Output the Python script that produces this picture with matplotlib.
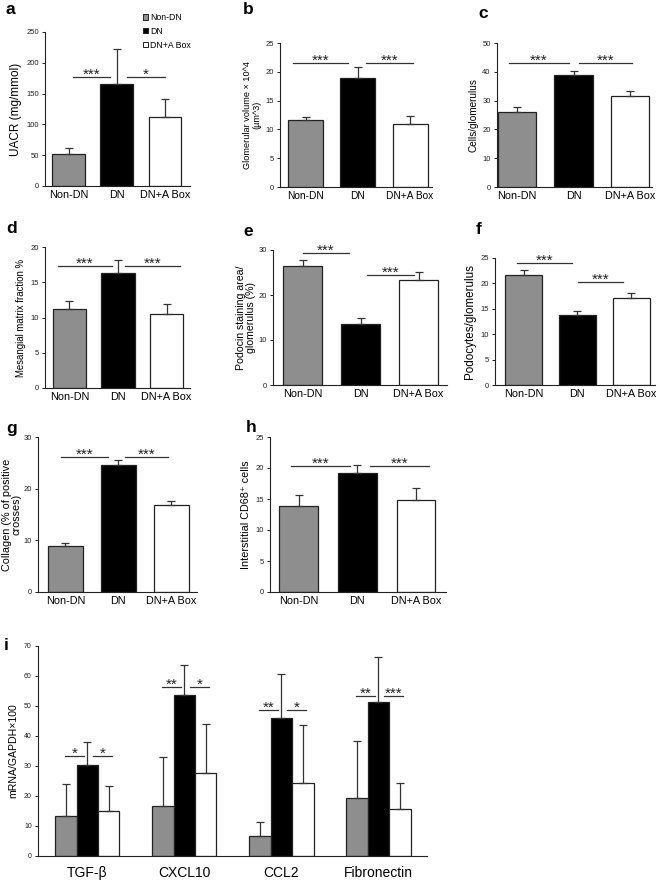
import matplotlib
matplotlib.use("Agg")
import matplotlib.pyplot as plt
from matplotlib.patches import Patch

plt.rcParams['font.family'] = ['Liberation Sans', 'DejaVu Sans']

# ---------------- data ----------------
groups = ['Non-DN', 'DN', 'DN+A Box']
uacr_mean = [51.5, 166, 111.5]
uacr_err = [10, 57, 30]
glom_vol_mean = [11.7, 19.0, 10.9]
glom_vol_err = [0.4, 1.85, 1.4]
cells_mean = [26.0, 39.0, 31.5]
cells_err = [1.7, 1.2, 1.7]
mesangial_mean = [11.2, 16.3, 10.5]
mesangial_err = [1.2, 1.8, 1.4]
podocin_mean = [26.5, 13.6, 23.3]
podocin_err = [1.3, 1.4, 1.9]
podocytes_mean = [21.6, 13.7, 17.1]
podocytes_err = [1.0, 0.8, 1.0]
collagen_mean = [8.9, 24.5, 16.9]
collagen_err = [0.6, 1.1, 0.8]
cd68_mean = [13.8, 19.2, 14.9]
cd68_err = [1.9, 1.3, 1.9]

genes = ['TGF-β', 'CXCL10', 'CCL2', 'Fibronectin']
mrna_nondn = [13.4, 16.6, 6.8, 19.5]
mrna_nondn_err = [10.6, 16.3, 4.4, 18.9]
mrna_dn = [30.3, 53.6, 46.1, 51.3]
mrna_dn_err = [7.7, 10.2, 14.7, 15.1]
mrna_abox = [14.9, 27.8, 24.4, 15.7]
mrna_abox_err = [8.4, 16.1, 19.3, 8.7]
mrna_sig = [('*', '*'), ('**', '*'), ('**', '*'), ('**', '***')]
mrna_sig_height = [33.3, 56.3, 48.7, 53.3]

colors = ['#8e8e8e', '#000000', '#ffffff']
EDGE = '#222222'
ECOL = '#333333'

W, H = 660, 882
fig = plt.figure(figsize=(W / 100, H / 100), dpi=100)


def px_axes(left, top, right, bottom):
    return fig.add_axes([left / W, 1 - bottom / H, (right - left) / W, (bottom - top) / H])


def style(ax, ytick_fs=5.5):
    for s in ['top', 'right']:
        ax.spines[s].set_visible(False)
    for s in ['left', 'bottom']:
        ax.spines[s].set_linewidth(0.8)
        ax.spines[s].set_color('#222222')
    ax.tick_params(axis='y', length=2.5, width=0.7, labelsize=ytick_fs, pad=2, colors='#222222')
    ax.tick_params(axis='x', length=0, pad=3)


def sig(ax, x0, x1, y, stars, fs=11):
    ax.plot([x0, x1], [y, y], color='#333333', lw=0.9, zorder=4)
    ax.annotate(stars, xy=((x0 + x1) / 2, y), xytext=(0, -1.4), textcoords='offset points',
                ha='center', va='baseline', fontsize=fs, color='#222222')


def panel(rect, xlim, width, means, errs, ylim, yticks, ylabel, ylabel_fs,
          xlabel_fs, sigs, letter, letter_xy, labelpad=3):
    ax = px_axes(*rect)
    x = list(range(len(groups)))
    ax.bar(x, means, width=width, color=colors, edgecolor=EDGE, linewidth=0.9, zorder=2)
    ax.errorbar(x, means, yerr=[[0] * len(errs), errs], fmt='none', ecolor=ECOL,
                elinewidth=0.9, capsize=2.6, capthick=0.9, zorder=3)
    ax.set_xlim(*xlim)
    ax.set_ylim(*ylim)
    ax.set_yticks(yticks)
    ax.set_xticks(x)
    ax.set_xticklabels(groups, fontsize=xlabel_fs)
    ax.set_ylabel(ylabel, fontsize=ylabel_fs, labelpad=labelpad, linespacing=0.95)
    style(ax)
    for (x0, x1, y, st) in sigs:
        sig(ax, x0, x1, y, st)
    fig.text(letter_xy[0] / W, 1 - letter_xy[1] / H, letter, fontsize=12.5,
             fontweight='bold', ha='left', va='center')
    return ax


# a
panel((45, 32, 190, 186), (-0.49, 2.52), 0.68, uacr_mean, uacr_err, (0, 250),
      range(0, 251, 50), 'UACR (mg/mmol)', 8.5, 7.8,
      [(0.09, 0.86, 177, '***'), (1.22, 2.0, 177, '*')], 'a', (6, 10))
# b
panel((280, 43, 432, 187), (-0.49, 2.42), 0.67, glom_vol_mean, glom_vol_err, (0, 25),
      range(0, 26, 5), 'Glomerular volume × 10^4\n(µm^3)', 6.6, 7.3,
      [(-0.24, 0.82, 21.5, '***'), (1.16, 2.05, 21.5, '***')], 'b', (243, 10))
# c
panel((497, 43, 652, 187), (-0.36, 2.39), 0.68, cells_mean, cells_err, (0, 50),
      range(0, 51, 10), 'Cells/glomerulus', 7.2, 7.8,
      [(-0.15, 0.91, 43, '***'), (1.09, 2.04, 43, '***')], 'c', (478, 13))
# d
panel((45, 247, 190, 388), (-0.5, 2.48), 0.68, mesangial_mean, mesangial_err, (0, 20),
      range(0, 21, 5), 'Mesangial matrix fraction %', 6.9, 7.8,
      [(-0.24, 0.88, 17.3, '***'), (1.14, 2.27, 17.3, '***')], 'd', (6, 228))
# e
panel((273, 250, 447, 385), (-0.51, 2.49), 0.67, podocin_mean, podocin_err, (0, 30),
      range(0, 31, 10), 'Podocin staining area/\nglomerulus (%)', 7.6, 7.8,
      [(0.0, 0.8, 29.3, '***'), (1.11, 1.92, 24.4, '***')], 'e', (243, 232), labelpad=2)
# f
panel((495, 258, 655, 385), (-0.53, 2.44), 0.69, podocytes_mean, podocytes_err, (0, 25),
      range(0, 26, 5), 'Podocytes/glomerulus', 8.4, 7.8,
      [(-0.12, 0.9, 24.1, '***'), (1.01, 1.84, 20.3, '***')], 'f', (476, 230))
# g
panel((38, 437, 197, 592), (-0.52, 2.49), 0.66, collagen_mean, collagen_err, (0, 30),
      range(0, 31, 10), 'Collagen (% of positive\ncrosses)', 7.8, 7.8,
      [(-0.09, 0.81, 26.1, '***'), (1.13, 1.94, 26.1, '***')], 'g', (6, 428), labelpad=1)
# h
panel((270, 437, 446, 592), (-0.49, 2.51), 0.66, cd68_mean, cd68_err, (0, 25),
      range(0, 26, 5), 'Interstitial CD68⁺ cells', 7.8, 7.8,
      [(-0.13, 0.88, 20.4, '***'), (1.22, 2.22, 20.4, '***')], 'h', (246, 428))

# legend for panel a
handles = [Patch(facecolor=c, edgecolor=EDGE, linewidth=0.7, label=g) for c, g in zip(colors, groups)]
fig.legend(handles=handles, loc='upper left', bbox_to_anchor=(143 / W, 1 - 13 / H),
           frameon=False, fontsize=6.3, handlelength=0.55, handleheight=0.55,
           handletextpad=0.25, labelspacing=0.55, borderaxespad=0, borderpad=0)

# i
ax = px_axes(38, 646, 427, 856)
xs = list(range(len(genes)))
bw = 0.22
series = [(mrna_nondn, mrna_nondn_err), (mrna_dn, mrna_dn_err), (mrna_abox, mrna_abox_err)]
for k, (vals, errs) in enumerate(series):
    pos = [x + (k - 1) * bw for x in xs]
    ax.bar(pos, vals, width=bw, color=colors[k], edgecolor=EDGE, linewidth=0.9, zorder=2)
    ax.errorbar(pos, vals, yerr=[[0] * len(errs), errs], fmt='none', ecolor=ECOL,
                elinewidth=0.9, capsize=2.6, capthick=0.9, zorder=3)
ax.set_xlim(-0.51, 3.5)
ax.set_ylim(0, 70)
ax.set_yticks(range(0, 71, 10))
ax.set_xticks(xs)
ax.set_xticklabels(genes, fontsize=10)
ax.set_ylabel('mRNA/GAPDH×100', fontsize=7.6, labelpad=4)
style(ax, ytick_fs=5)
ax.tick_params(axis='x', pad=7)
for x, (s1, s2), y in zip(xs, mrna_sig, mrna_sig_height):
    sig(ax, x - 0.23, x - 0.04, y, s1)
    sig(ax, x + 0.06, x + 0.25, y, s2)
fig.text(4 / W, 1 - 646 / H, 'i', fontsize=12.5, fontweight='bold', ha='left', va='center')

fig.savefig('out.png', dpi=100)
